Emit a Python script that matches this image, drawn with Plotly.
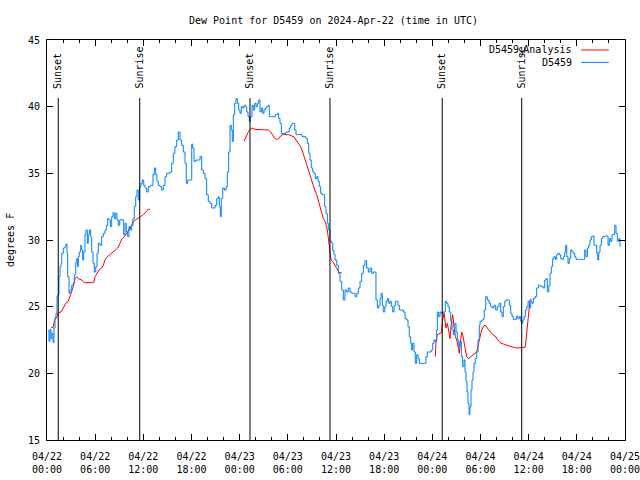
import pandas as pd
import plotly.graph_objects as go

# ---------------- data ----------------
base_time = "2024-04-22 00:00"
title_text = "Dew Point for D5459 on 2024-Apr-22 (time in UTC)"

# observed dew point (hours since 2024-04-22 00:00 UTC, deg F)
obs_hours = [
    0.12, 0.25, 0.37, 0.50, 0.62, 0.75, 0.87, 1.00, 1.12, 1.25, 1.41, 1.49, 1.62, 1.74, 1.83,
    2.03, 2.24, 2.37, 2.49, 2.58, 2.74, 2.87, 3.08, 3.28, 3.40, 3.58, 3.70, 3.82, 3.90, 4.02,
    4.20, 4.32, 4.45, 4.57, 4.73, 4.86, 5.02, 5.14, 5.27, 5.44, 5.57, 5.73, 5.89, 6.07, 6.23,
    6.39, 6.60, 6.81, 7.01, 7.22, 7.39, 7.56, 7.72, 7.89, 8.06, 8.22, 8.38, 8.56, 8.72, 8.88,
    9.06, 9.22, 9.38, 9.55, 9.72, 9.88, 10.05, 10.21, 10.38, 10.55, 10.71, 10.87, 11.05, 11.21,
    11.37, 11.55, 11.71, 11.87, 12.05, 12.21, 12.42, 12.62, 12.87, 13.04, 13.20, 13.37, 13.54,
    13.70, 13.86, 14.08, 14.29, 14.49, 14.70, 14.91, 15.11, 15.32, 15.53, 15.73, 15.94, 16.16,
    16.36, 16.57, 16.78, 16.98, 17.19, 17.35, 17.53, 17.69, 17.85, 18.03, 18.15, 18.31, 18.56,
    18.85, 19.06, 19.27, 19.47, 19.68, 19.89, 20.09, 20.30, 20.52, 20.72, 20.93, 21.14, 21.34,
    21.46, 21.59, 21.71, 21.89, 22.09, 22.30, 22.46, 22.63, 22.80, 22.96, 23.08, 23.21, 23.38,
    23.54, 23.71, 23.88, 24.04, 24.20, 24.38, 24.54, 24.70, 24.88, 25.04, 25.20, 25.33, 25.54,
    25.70, 25.87, 26.04, 26.20, 26.37, 26.53, 26.70, 26.87, 27.03, 27.19, 27.37, 27.53, 27.69,
    27.94, 28.19, 28.44, 28.69, 28.86, 29.02, 29.19, 29.36, 29.52, 29.77, 30.02, 30.18, 30.36,
    30.52, 30.68, 30.86, 31.02, 31.27, 31.52, 31.77, 32.02, 32.26, 32.43, 32.60, 32.76, 32.92,
    33.10, 33.26, 33.42, 33.60, 33.76, 33.92, 34.09, 34.26, 34.42, 34.59, 34.75, 34.92, 35.09,
    35.25, 35.42, 35.59, 35.75, 35.88, 36.09, 36.29, 36.50, 36.71, 36.91, 37.12, 37.33, 37.53,
    37.74, 37.96, 38.16, 38.37, 38.58, 38.78, 38.99, 39.20, 39.40, 39.61, 39.82, 40.02, 40.24,
    40.45, 40.65, 40.86, 40.98, 41.15, 41.32, 41.48, 41.61, 41.77, 41.89, 42.07, 42.23, 42.39,
    42.57, 42.73, 42.89, 43.06, 43.23, 43.39, 43.56, 43.72, 43.89, 44.14, 44.38, 44.60, 44.81,
    44.97, 45.13, 45.31, 45.43, 45.55, 45.72, 45.88, 46.05, 46.22, 46.38, 46.71, 47.05, 47.21,
    47.37, 47.62, 47.87, 48.05, 48.21, 48.37, 48.54, 48.62, 48.79, 48.96, 49.12, 49.29, 49.45,
    49.62, 49.79, 49.95, 50.11, 50.29, 50.45, 50.61, 50.79, 50.95, 51.11, 51.29, 51.45, 51.61,
    51.78, 51.95, 52.07, 52.20, 52.32, 52.44, 52.57, 52.69, 52.82, 52.94, 53.07, 53.19, 53.35,
    53.53, 53.69, 53.85, 53.94, 54.15, 54.35, 54.47, 54.65, 54.85, 55.06, 55.27, 55.47, 55.68,
    55.89, 56.09, 56.31, 56.52, 56.68, 56.84, 57.02, 57.18, 57.43, 57.59, 57.76, 57.93, 58.09,
    58.30, 58.51, 58.67, 58.83, 59.01, 59.13, 59.26, 59.42, 59.58, 59.76, 59.92, 60.08, 60.26,
    60.42, 60.58, 60.79, 61.00, 61.20, 61.41, 61.62, 61.82, 62.00, 62.16, 62.32, 62.50, 62.66,
    62.82, 62.99, 63.16, 63.32, 63.49, 63.66, 63.82, 63.99, 64.15, 64.32, 64.49, 64.61, 64.74,
    64.90, 65.06, 65.24, 65.40, 65.56, 65.74, 65.90, 66.18, 66.48, 66.81, 66.98, 67.14, 67.31,
    67.48, 67.64, 67.80, 67.98, 68.14, 68.30, 68.48, 68.60, 68.73, 68.89, 69.05, 69.22, 69.47,
    69.72, 69.89, 70.05, 70.22, 70.38, 70.55, 70.72, 70.88, 71.04, 71.22, 71.38,
]
obs_dewpt = [
    23.2, 22.4, 23.3, 22.6, 23.0, 22.3, 23.4, 24.2, 24.5, 25.8, 25.9, 27.25, 28.0, 28.25, 29.0,
    29.4, 29.5, 29.7, 29.0, 27.25, 26.0, 26.25, 26.6, 26.8, 27.4, 28.3, 28.6, 28.0, 28.75, 29.1,
    29.6, 29.25, 28.5, 29.1, 30.4, 30.75, 29.75, 30.4, 30.75, 30.25, 29.1, 28.25, 27.6, 28.0, 29.0,
    29.75, 29.6, 30.25, 30.5, 30.75, 31.1, 31.6, 31.5, 31.0, 31.75, 32.05, 31.6, 32.0, 31.5, 31.1,
    31.5, 31.55, 31.5, 30.4, 31.25, 30.6, 30.25, 31.0, 30.75, 31.1, 31.6, 32.5, 33.25, 33.75,
    33.0, 34.0, 34.25, 34.5, 34.1, 33.9, 33.6, 34.0, 34.1, 34.1, 34.9, 35.4, 34.9,
    34.4, 34.1, 34.0, 33.75, 34.1, 34.75, 35.0, 35.0, 35.1, 35.75, 36.5, 37.0, 37.5,
    38.1, 37.5, 37.1, 36.6, 35.75, 34.25, 34.5, 34.5, 34.5, 37.2, 36.9, 35.9, 36.0,
    36.0, 36.25, 35.25, 35.0, 34.6, 33.4, 32.9, 32.75, 32.4, 32.4, 32.6, 33.1, 33.25,
    32.5, 31.75, 33.1, 33.9, 33.75, 34.0, 35.1, 36.6, 38.6, 38.25, 37.4, 39.4, 40.25,
    40.6, 40.25, 39.75, 39.5, 40.0, 39.9, 40.1, 40.0, 39.6, 39.25, 38.9, 39.25, 40.1,
    39.75, 40.25, 40.0, 40.25, 40.5, 39.6, 39.9, 39.5, 39.75, 39.9, 40.0, 40.1, 39.25,
    39.25, 39.25, 39.4, 39.5, 39.1, 38.75, 38.0, 37.9, 38.0, 38.1, 38.1, 38.4, 38.6,
    38.75, 38.75, 38.25, 37.9, 37.9, 37.9, 37.75, 37.75, 37.6, 37.25, 36.5, 36.0, 35.4,
    35.1, 35.0, 34.6, 34.75, 34.4, 34.0, 33.5, 33.4, 33.4, 32.5, 32.0, 31.25, 30.75,
    29.9, 29.8, 29.2, 28.9, 28.5, 28.1, 27.5, 26.9, 26.25, 25.5, 26.25, 26.1, 26.4,
    26.1, 26.0, 26.0, 25.75, 26.0, 26.4, 26.9, 27.5, 28.1, 28.45, 27.9, 27.6, 27.9,
    27.5, 27.6, 27.6, 25.5, 24.9, 25.1, 25.6, 26.0, 25.1, 24.6, 25.0, 25.4, 25.6,
    25.25, 25.4, 25.0, 24.6, 25.1, 25.4, 25.4, 25.1, 24.75, 24.75, 24.6, 24.1, 24.0,
    23.5, 22.75, 22.25, 21.75, 22.25, 21.6, 20.75, 21.4, 21.1, 20.75, 20.75, 20.75, 21.25,
    21.6, 21.6, 21.75, 22.25, 22.5, 22.4, 23.25, 24.6, 24.25, 24.6, 24.5, 24.6, 24.6,
    25.4, 25.25, 25.0, 24.6, 23.9, 23.25, 22.9, 23.75, 23.1, 22.5, 22.0, 22.4, 21.25,
    20.5, 21.0, 20.1, 19.4, 18.6, 17.75, 16.9, 17.5, 18.75, 19.5, 20.1, 20.75, 21.1,
    21.6, 22.5, 23.6, 23.9, 24.0, 24.1, 24.75, 25.75, 25.5, 25.25, 25.0, 24.9, 25.1,
    24.75, 25.0, 25.25, 24.6, 24.25, 25.0, 25.4, 25.5, 25.5, 25.1, 24.5, 24.25, 24.05,
    24.05, 24.3, 24.1, 24.25, 23.9, 23.75, 24.0, 24.25, 24.75, 25.0, 25.4, 24.9, 25.4,
    25.25, 25.6, 25.75, 26.4, 26.6, 26.55, 26.5, 26.4, 27.0, 27.1, 26.1, 26.6, 27.5,
    28.0, 28.6, 28.75, 28.55, 28.9, 29.0, 28.9, 28.6, 28.55, 28.75, 29.1, 29.6, 28.75,
    28.25, 28.6, 29.25, 29.1, 29.0, 28.75, 28.55, 28.55, 28.55, 28.55, 29.25, 28.75, 29.4,
    29.6, 30.0, 30.25, 30.3, 29.6, 29.6, 29.0, 28.5, 29.1, 29.6, 30.1, 30.25, 30.3,
    30.3, 29.6, 30.1, 29.9, 30.4, 30.4, 31.1, 30.5, 29.9, 30.1, 29.5,
]

# analysis dew point (None marks breaks between analysis windows)
ana_hours = [
    0.50, 0.78, 0.91, 1.12, 1.25, 1.41, 1.74, 2.03, 2.33, 2.65, 2.87, 3.08, 3.28, 3.49, 3.70,
    3.90, 4.32, 4.65, 5.14, 5.57, 5.82, 5.98, 6.19, 6.48, 6.81, 7.01, 7.22, 7.51, 7.85, 8.13,
    8.47, 8.81, 9.09, 9.31, 9.55, 9.80, 10.05, 10.30, 10.55, 10.75, 11.05, 11.37, 11.67, 12.00,
    12.21, 12.42, 12.62, 12.83,
    18.0,
    24.54, 24.79, 25.04, 25.29, 25.54, 25.91, 26.32, 26.75, 27.16, 27.57, 27.87, 28.12, 28.40,
    28.61, 28.86, 29.11, 29.44, 29.77, 30.11, 30.48, 30.77, 31.02, 31.30, 31.60, 31.85, 32.10,
    32.35, 32.60, 32.85, 33.10, 33.35, 33.60, 33.80, 34.01, 34.22, 34.42, 34.63, 34.84, 34.97,
    35.13, 35.25, 35.38, 35.59, 35.88, 36.16, 36.41, 36.71,
    42.0,
    48.37, 48.46, 48.62, 48.87, 49.12, 49.29, 49.45, 49.58, 49.70, 49.87, 50.04, 50.20, 50.36,
    50.54, 50.70, 50.86, 51.04, 51.20, 51.36, 51.53, 51.66, 51.78, 51.95, 52.11, 52.28, 52.48,
    52.69, 52.90, 53.10, 53.31, 53.53, 53.69, 53.85, 53.94, 54.15, 54.44, 54.69, 54.97, 55.27,
    55.52, 55.81, 56.09, 56.43, 56.84, 57.27, 57.68, 58.09, 58.51, 58.92, 59.34, 59.55, 59.67,
    59.80, 59.92, 60.05, 60.17, 60.38,
]
ana_dewpt = [
    23.45, 23.45, 23.95, 24.1, 24.25, 24.55, 24.6, 24.9, 25.25, 25.4, 25.75, 26.1, 26.5, 27.1, 27.25,
    27.1, 27.0, 26.8, 26.8, 26.8, 26.8, 27.25, 27.5, 27.75, 27.9, 28.1, 28.5, 28.75, 28.9, 29.05,
    29.25, 29.4, 29.75, 30.05, 30.2, 30.4, 30.6, 30.9, 31.1, 31.4, 31.5, 31.6, 31.75, 31.9,
    32.0, 32.2, 32.3, 32.3,
    None,
    37.4, 37.75, 38.05, 38.3, 38.4, 38.3, 38.3, 38.25, 38.25, 38.25, 38.1, 37.9, 37.6,
    37.55, 37.6, 37.8, 37.95, 37.9, 37.9, 37.8, 37.75, 37.5, 37.25, 37.0, 36.6, 36.1,
    35.6, 35.1, 34.6, 34.1, 33.75, 33.4, 33.0, 32.6, 32.1, 31.6, 31.4, 31.0, 30.5,
    29.75, 29.0, 28.5, 28.4, 28.1, 27.75, 27.55, 27.55,
    None,
    21.25, 22.4, 22.9, 23.0, 23.05, 24.0, 24.55, 24.0, 23.4, 23.75, 23.1, 22.6, 23.75,
    24.4, 23.5, 22.75, 22.5, 22.0, 21.5, 22.5, 23.1, 22.9, 22.25, 21.75, 21.25, 21.1,
    21.2, 21.3, 21.4, 21.55, 21.6, 22.05, 22.5, 22.75, 23.25, 23.6, 23.55, 23.3, 23.05,
    22.9, 22.8, 22.55, 22.3, 22.2, 22.1, 22.0, 21.95, 21.9, 21.9, 21.9, 21.95, 22.5,
    23.25, 24.25, 25.0, 25.5, 25.55,
]

# sun events (UTC)
sun_times = ["2024-04-22 01:24", "2024-04-22 11:33", "2024-04-23 01:17",
             "2024-04-23 11:15", "2024-04-24 01:14", "2024-04-24 11:08"]
sun_labels = ["Sunset", "Sunrise", "Sunset", "Sunrise", "Sunset", "Sunrise"]

series_names = ["D5459<sub>a</sub>Analysis", "D5459"]
series_colors = ["#ff0000", "#0080ff"]

y_range = [15, 45]
y_ticks = [15, 20, 25, 30, 35, 40, 45]
# ---------------------------------------

t0 = pd.Timestamp(base_time)
obs_x = [t0 + pd.Timedelta(hours=h) for h in obs_hours]
ana_x = [t0 + pd.Timedelta(hours=h) for h in ana_hours]

FONT = "DejaVu Sans Mono"

fig = go.Figure()
fig.add_trace(go.Scatter(x=ana_x, y=ana_dewpt, mode="lines", name=series_names[0],
                         line=dict(color=series_colors[0], width=1), connectgaps=False,
                         showlegend=False))
fig.add_trace(go.Scatter(x=obs_x, y=obs_dewpt, mode="lines", name=series_names[1],
                         line=dict(color=series_colors[1], width=1, shape="hv"),
                         showlegend=False))

shapes = []
annotations = []
for t, lab in zip(sun_times, sun_labels):
    shapes.append(dict(type="line", xref="x", yref="y domain", x0=t, x1=t, y0=0, y1=0.855,
                       line=dict(color="black", width=1)))
    annotations.append(dict(text=lab, x=t, xref="x", y=0.873, yref="y domain",
                            xanchor="center", yanchor="bottom", textangle=-90,
                            showarrow=False, font=dict(family=FONT, size=10, color="black")))

# legend (gnuplot style: text then sample line)
leg_y = [0.975, 0.944]
for name, col, ly in zip(series_names, series_colors, leg_y):
    annotations.append(dict(text=name, x=0.912, y=ly, xref="paper", yref="paper",
                            xanchor="right", yanchor="middle", showarrow=False,
                            font=dict(family=FONT, size=10, color="black")))
    shapes.append(dict(type="line", xref="paper", yref="paper", x0=0.924, x1=0.972,
                       y0=ly, y1=ly, line=dict(color=col, width=1)))

annotations.append(dict(text="degrees F", x=-0.064, y=0.5, xref="paper", yref="paper",
                        xanchor="center", yanchor="middle", textangle=-90, showarrow=False,
                        font=dict(family=FONT, size=10, color="black")))
annotations.append(dict(text=title_text, x=0.4965, y=1.0, xref="paper", yref="paper",
                        yshift=20, xanchor="center", yanchor="middle", showarrow=False,
                        font=dict(family=FONT, size=10, color="black")))

fig.update_layout(
    width=640, height=480,
    margin=dict(l=47, r=15, t=40, b=40, autoexpand=False),
    plot_bgcolor="white", paper_bgcolor="white",
    font=dict(family=FONT, size=10, color="black"),
    shapes=shapes, annotations=annotations,
    showlegend=False,
    hovermode=False,
    xaxis=dict(
        type="date",
        range=[t0, t0 + pd.Timedelta(hours=72)],
        tick0=t0, dtick=6 * 3600 * 1000,
        tickformat="%m/%d<br>%H:%M",
        ticks="inside", ticklen=6, tickcolor="black",
        showline=True, linecolor="black", linewidth=1, mirror="allticks",
        showgrid=False, zeroline=False,
        minor=dict(dtick=2 * 3600 * 1000, ticks="inside", ticklen=3, tickcolor="black",
                   showgrid=False),
        ticklabelstandoff=7,
        ticklabeloverflow="allow",
    ),
    yaxis=dict(
        range=y_range, tickvals=y_ticks,
        ticks="inside", ticklen=6, tickcolor="black",
        showline=True, linecolor="black", linewidth=1, mirror="allticks",
        showgrid=False, zeroline=False,
        ticklabelstandoff=4,
    ),
)

fig.write_html("out.html", config={"displayModeBar": False},
               post_script="document.body.style.margin='0';document.body.style.overflow='hidden';")
